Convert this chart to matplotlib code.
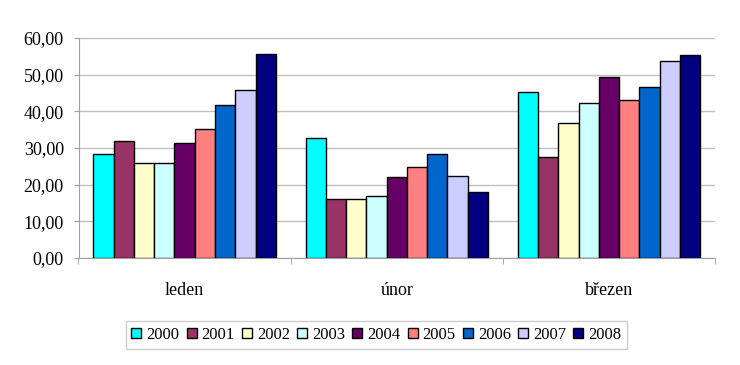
import matplotlib
matplotlib.use("Agg")
import matplotlib.pyplot as plt
import numpy as np

categories = ["leden", "únor", "březen"]
years = ["2000", "2001", "2002", "2003", "2004", "2005", "2006", "2007", "2008"]
v2000 = [28.4, 32.8, 45.4]
v2001 = [32.0, 16.1, 27.6]
v2002 = [26.0, 16.1, 36.7]
v2003 = [26.0, 17.0, 42.2]
v2004 = [31.5, 22.2, 49.3]
v2005 = [35.2, 24.9, 43.1]
v2006 = [41.8, 28.4, 46.6]
v2007 = [45.8, 22.5, 53.7]
v2008 = [55.7, 18.1, 55.3]
series = [v2000, v2001, v2002, v2003, v2004, v2005, v2006, v2007, v2008]
colors = ["#00FFFF", "#993366", "#FFFFCC", "#CCFFFF", "#660066",
          "#FF8080", "#0066CC", "#CCCCFF", "#000080"]
yticks = [0, 10, 20, 30, 40, 50, 60]
ytick_labels = ["0,00", "10,00", "20,00", "30,00", "40,00", "50,00", "60,00"]

plt.rcParams['font.family'] = ['Liberation Serif', 'DejaVu Serif']

fig = plt.figure(figsize=(7.4, 3.65), dpi=100)
ax = fig.add_axes([78.5/740, 1-258/365, 636.5/740, 220/365])

n = len(series)
group = 0.86
w = group / n
x = np.arange(len(categories))
for i, (vals, c, y) in enumerate(zip(series, colors, years)):
    ax.bar(x - group/2 + w*(i+0.5), vals, width=w, color=c,
           edgecolor="#000000", linewidth=1.0, label=y, zorder=3)

ax.set_xlim(-0.5, len(categories) - 0.5)
ax.set_ylim(0, 60)
ax.set_yticks(yticks)
ax.set_yticklabels(ytick_labels, fontsize=13)
ax.yaxis.grid(True, color="#c0c0c0", linewidth=1.0, zorder=0)
ax.set_axisbelow(True)

ax.set_xticks(x)
ax.set_xticklabels(categories, fontsize=13)
ax.set_xticks(np.arange(len(categories) + 1) - 0.5, minor=True)
ax.tick_params(axis='x', which='major', length=0, pad=17)
ax.tick_params(axis='x', which='minor', length=4, color="#a0a0a0", direction='out')
ax.tick_params(axis='y', length=3.6, color="#a0a0a0", direction='out', pad=7)

for s in ["top", "right"]:
    ax.spines[s].set_visible(False)
ax.spines["left"].set_color("#a0a0a0")
ax.spines["bottom"].set_color("#a0a0a0")

leg = fig.legend(loc="center", bbox_to_anchor=(376.5/740, 1-335/365), ncol=9,
                 fontsize=12, frameon=True, fancybox=False,
                 handlelength=0.6, handleheight=0.6, handletextpad=0.3,
                 columnspacing=0.43, borderpad=0.35, borderaxespad=0,
                 edgecolor="#c0c0c0")
leg.get_frame().set_linewidth(1.0)

fig.savefig("out.png", dpi=100)
